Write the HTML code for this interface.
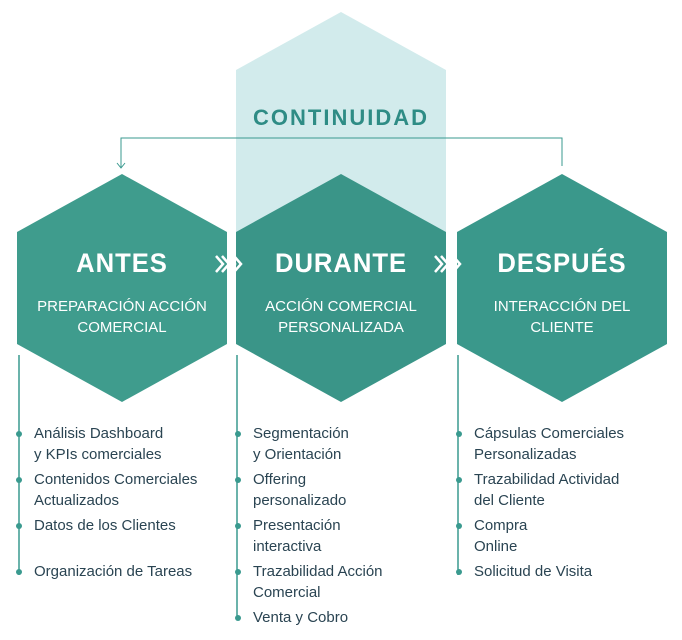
<!DOCTYPE html>
<html><head><meta charset="utf-8"><style>
body{margin:0;background:#fff;width:682px;height:640px;overflow:hidden;position:relative;font-family:"Liberation Sans",sans-serif}
svg{position:absolute;left:0;top:0}
.t{position:absolute;color:#fff;text-align:center;width:210px}
.h{font-weight:bold;font-size:27px;letter-spacing:1px;top:248px;transform:scaleX(0.95)}
.s{font-size:15px;line-height:21px;top:296px;font-family:"Liberation Sans Narrow","Liberation Sans",sans-serif}
.l{position:absolute;font-size:15px;line-height:21px;color:#2a4452}
.l div{position:relative;margin-bottom:4px}
.l div:before{content:"";position:absolute;left:-18px;top:8px;width:6px;height:6px;border-radius:3px;background:#3a9a8f}
</style></head><body>
<svg width="682" height="640">
<polygon points="341,12 446,70 446,240 341,298 236,240 236,70" fill="#cde9ea" opacity="0.9"/>
<polygon points="122,174 227,232 227,344 122,402 17,344 17,232" fill="#3f9c8d"/>
<polygon points="341,174 446,232 446,344 341,402 236,344 236,232" fill="#3a9588"/>
<polygon points="562,174 667,232 667,344 562,402 457,344 457,232" fill="#3a988b"/>
<polyline points="121,168 121,138 562,138 562,166" fill="none" stroke="#3a9a8f" stroke-width="1"/>
<polyline points="117,163 121,168 125,163" fill="none" stroke="#3a9a8f"/>
<line x1="19" y1="355" x2="19" y2="575" stroke="#3a9a8f" stroke-width="1.5"/>
<line x1="237" y1="355" x2="237" y2="620" stroke="#3a9a8f" stroke-width="1.5"/>
<line x1="458" y1="355" x2="458" y2="575" stroke="#3a9a8f" stroke-width="1.5"/>
<g fill="none" stroke="#fff" stroke-width="2.5">
<polyline points="216,256 223,264 216,272"/><polyline points="222,256 229,264 222,272"/><polyline points="228,256 235,264 228,272"/><polyline points="234,256 241,264 234,272"/>
<polyline points="435,256 442,264 435,272"/><polyline points="441,256 448,264 441,272"/><polyline points="447,256 454,264 447,272"/><polyline points="453,256 460,264 453,272"/>
</g>
</svg>
<div style="position:absolute;left:236px;width:210px;top:105px;text-align:center;color:#2e8c85;font-weight:bold;font-size:22px;letter-spacing:2px">CONTINUIDAD</div>
<div class="t h" style="left:17px">ANTES</div>
<div class="t h" style="left:236px">DURANTE</div>
<div class="t h" style="left:457px">DESPUÉS</div>
<div class="t s" style="left:17px">PREPARACIÓN ACCIÓN<br>COMERCIAL</div>
<div class="t s" style="left:236px">ACCIÓN COMERCIAL<br>PERSONALIZADA</div>
<div class="t s" style="left:457px">INTERACCIÓN DEL<br>CLIENTE</div>
<div class="l" style="left:34px;top:423px"><div>Análisis Dashboard<br>y KPIs comerciales</div><div>Contenidos Comerciales<br>Actualizados</div><div>Datos de los Clientes</div><div style="margin-top:25px">Organización de Tareas</div></div>
<div class="l" style="left:253px;top:423px"><div>Segmentación<br>y Orientación</div><div>Offering<br>personalizado</div><div>Presentación<br>interactiva</div><div>Trazabilidad Acción<br>Comercial</div><div>Venta y Cobro</div></div>
<div class="l" style="left:474px;top:423px"><div>Cápsulas Comerciales<br>Personalizadas</div><div>Trazabilidad Actividad<br>del Cliente</div><div>Compra<br>Online</div><div>Solicitud de Visita</div></div>
</body></html>
